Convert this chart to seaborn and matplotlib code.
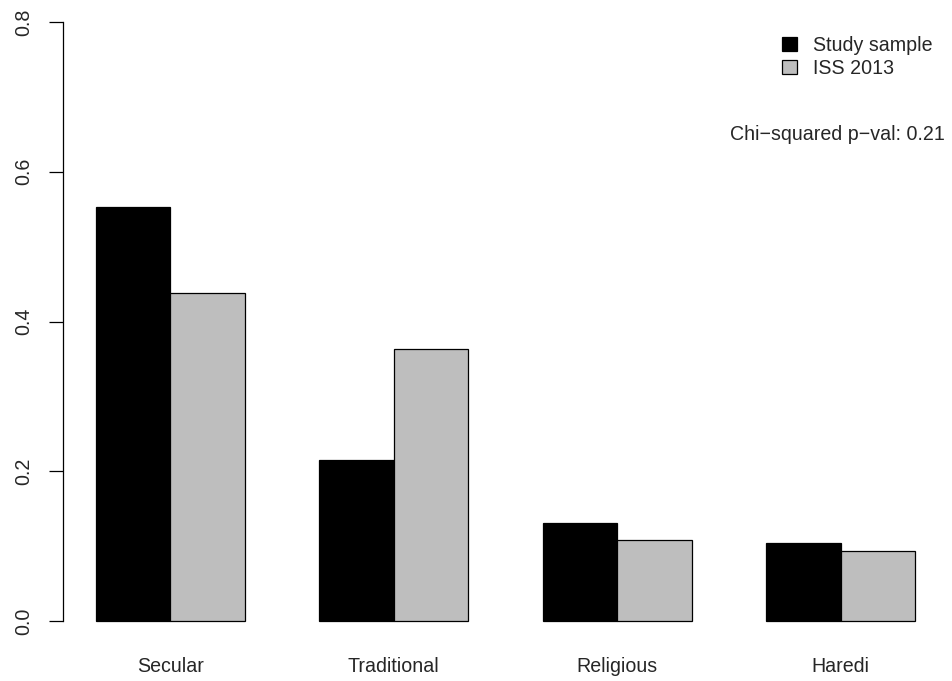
import matplotlib
matplotlib.use("Agg")
import matplotlib.pyplot as plt
from matplotlib.patches import Patch
import pandas as pd
import seaborn as sns

# Share of respondents by religiosity group
categories = ["Secular", "Traditional", "Religious", "Haredi"]
study_sample = [0.553, 0.215, 0.131, 0.104]
iss_2013 = [0.438, 0.363, 0.108, 0.093]
series_names = ["Study sample", "ISS 2013"]
y_ticks = [0.0, 0.2, 0.4, 0.6, 0.8]
y_tick_labels = ["0.0", "0.2", "0.4", "0.6", "0.8"]
p_value_text = "Chi\u2212squared p\u2212val: 0.21"

df = pd.DataFrame({
    "group": categories * 2,
    "source": [series_names[0]] * len(categories) + [series_names[1]] * len(categories),
    "share": study_sample + iss_2013,
})

sns.set_style("white")
plt.rcParams["font.family"] = ["Liberation Sans", "DejaVu Sans"]
FS = 14.1

W, H = 953, 681
fig = plt.figure(figsize=(W / 100, H / 100), dpi=100)
# plot region in pixel coordinates
left_px, right_px, top_px, bottom_px = 63.2, 947.8, -1.96, 645.0
ax = fig.add_axes([left_px / W, 1 - bottom_px / H,
                   (right_px - left_px) / W, (bottom_px - top_px) / H])

colors = ["black", "#BEBEBE"]
sns.barplot(data=df, x="group", y="share", hue="source", order=categories,
            hue_order=series_names, palette=colors, saturation=1,
            width=2 / 3, gap=0, errorbar=None, edgecolor="black",
            linewidth=0.9, legend=False, ax=ax)

ax.set_xlim(-0.48, 3.48)
ax.set_ylim(-0.032, 0.832)
ax.set_xlabel("")
ax.set_ylabel("")

for side in ["top", "right", "bottom"]:
    ax.spines[side].set_visible(False)
ax.spines["left"].set_bounds(0, 0.8)
ax.spines["left"].set_linewidth(0.9)
ax.spines["left"].set_color("black")

ax.set_yticks(y_ticks)
ax.set_yticklabels(y_tick_labels, rotation=90, va="center", fontsize=FS)
ax.tick_params(axis="y", length=10, width=0.9, color="black", pad=11.5,
               left=True, direction="out")
ax.tick_params(axis="x", length=0, pad=8.5, labelsize=FS)

handles = [Patch(facecolor=c, edgecolor="black", linewidth=0.9) for c in colors]
fig.legend(handles, series_names, loc="upper left",
           bbox_to_anchor=(782 / W, 1 - 36 / H), frameon=False,
           fontsize=FS, handlelength=0.75, handleheight=0.7,
           handletextpad=0.85, labelspacing=0.18, borderpad=0,
           borderaxespad=0)

fig.text(945 / W, 1 - 134 / H, p_value_text, ha="right", va="center",
         fontsize=FS)

fig.savefig("out.png", dpi=100, facecolor="white")
